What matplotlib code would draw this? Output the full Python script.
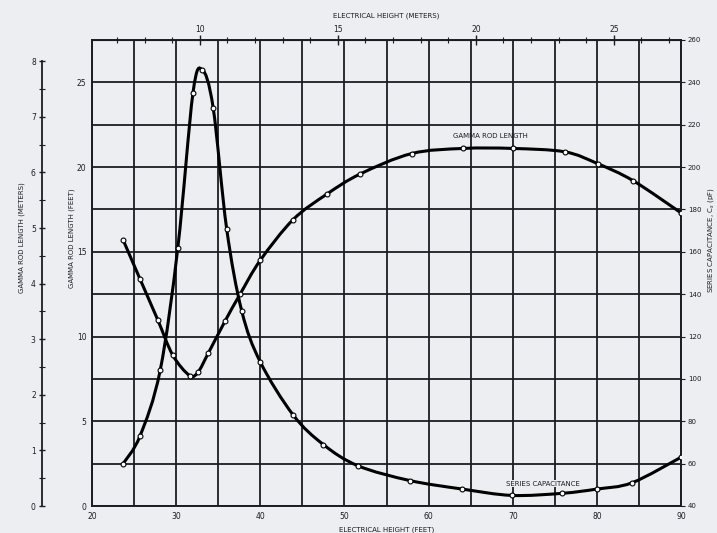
import numpy as np
import matplotlib.pyplot as plt
from matplotlib.path import Path
from matplotlib.patches import PathPatch

FT_PER_M = 3.2808

# electrical height (feet) and gamma rod length (feet)
gamma_h = [23.7, 25.7, 27.8, 29.6, 31.6, 32.6, 33.8, 35.8, 37.6, 40.0, 43.9,
           47.9, 51.9, 58.0, 64.1, 70.0, 76.2, 80.1, 84.3, 90.0]
gamma_len = [15.7, 13.4, 11.0, 8.9, 7.7, 7.9, 9.0, 10.9, 12.5, 14.5, 16.9,
             18.4, 19.6, 20.8, 21.1, 21.1, 20.9, 20.2, 19.2, 17.3]

# electrical height (feet) and series capacitance (pF)
cap_h = [23.7, 25.7, 28.1, 30.2, 32.0, 33.1, 34.4, 36.0, 37.8, 40.0, 43.9,
         47.5, 51.6, 57.8, 64.0, 69.9, 75.9, 80.0, 84.2, 90.0]
cap_pf = [60, 73, 104, 162, 235, 246, 228, 171, 132, 108, 83,
          69, 59, 52, 48, 45, 46, 48, 51, 63]

x_ticks = [20, 30, 40, 50, 60, 70, 80, 90]
m_ticks = [10, 15, 20, 25]
ft_ticks = [0, 5, 10, 15, 20, 25]
meter_ticks = [0, 1, 2, 3, 4, 5, 6, 7, 8]
pf_ticks = list(range(40, 261, 20))

bg = '#eceef1'
ink = '#1c1c24'
fs = 5.5


def smooth_path(xs, ys):
    # catmull-rom through the read points, drawn as cubic bezier
    p = np.column_stack([xs, ys]).astype(float)
    pp = np.vstack([p[0], p, p[-1]])
    verts = [p[0]]
    codes = [Path.MOVETO]
    for i in range(1, len(pp) - 2):
        c1 = pp[i] + (pp[i + 1] - pp[i - 1]) / 6
        c2 = pp[i + 1] - (pp[i + 2] - pp[i]) / 6
        verts += [c1, c2, pp[i + 1]]
        codes += [Path.CURVE4] * 3
    return Path(verts, codes)


fig = plt.figure(figsize=(7.17, 5.33), dpi=100, facecolor=bg)
ax = fig.add_axes([92 / 717, 1 - 506 / 533, 589 / 717, 466 / 533])
ax.set_facecolor(bg)
ax.set_xlim(20, 90)
ax.set_ylim(0, 27.5)
ax.set_xticks(x_ticks)
ax.set_xticks(np.arange(25, 90, 10), minor=True)
ax.set_yticks(ft_ticks)
ax.set_yticks(np.arange(2.5, 27.5, 5), minor=True)
ax.grid(which='both', color=ink, lw=1.3)
ax.tick_params(which='both', length=0, labelsize=fs, colors=ink, pad=4)
for s in ax.spines.values():
    s.set_color(ink)
    s.set_linewidth(1.4)

ax.add_patch(PathPatch(smooth_path(gamma_h, gamma_len), fc='none', ec='black', lw=2.2, zorder=3))
ax.plot(gamma_h, gamma_len, ls='none', marker='o', ms=3.5, mfc='white', mec='black', mew=0.8, zorder=4)

ax2 = ax.twinx()
ax2.set_ylim(40, 260)
ax2.set_yticks(pf_ticks)
ax2.tick_params(length=3, labelsize=5, colors=ink, pad=2)
ax2.add_patch(PathPatch(smooth_path(cap_h, cap_pf), fc='none', ec='black', lw=2.2, zorder=3))
ax2.plot(cap_h, cap_pf, ls='none', marker='o', ms=3.5, mfc='white', mec='black', mew=0.8, zorder=4)
for s in ax2.spines.values():
    s.set_visible(False)

ax.text(67.3, 214.7, 'GAMMA ROD LENGTH', transform=ax2.transData, fontsize=5,
        ha='center', va='center', color=ink, zorder=5)
ax.text(73.6, 50.6, 'SERIES CAPACITANCE', transform=ax2.transData, fontsize=5,
        ha='center', va='center', color=ink, zorder=5,
        bbox=dict(fc=bg, ec='none', pad=0.5))

top = ax.secondary_xaxis('top', functions=(lambda f: f / FT_PER_M, lambda m: m * FT_PER_M))
top.set_xticks(m_ticks)
top.set_xticks(np.arange(7, 28, 1), minor=True)
top.tick_params(which='major', direction='inout', length=7, width=1, labelsize=fs, colors=ink, pad=1)
top.tick_params(which='minor', direction='inout', length=4, width=0.8, colors=ink)
top.set_xlabel('ELECTRICAL HEIGHT (METERS)', fontsize=5, color=ink, labelpad=5)

left = ax.secondary_yaxis(-50 / 589, functions=(lambda f: f / FT_PER_M, lambda m: m * FT_PER_M))
left.set_yticks(meter_ticks)
left.set_yticks(np.arange(0.5, 8, 1), minor=True)
left.tick_params(which='major', direction='inout', length=5, width=1, labelsize=fs, colors=ink, pad=2)
left.tick_params(which='minor', direction='inout', length=4, width=0.8, colors=ink)
left.spines['left'].set_bounds(0, 8)
left.spines['left'].set_color(ink)
left.spines['left'].set_linewidth(1.3)

ax.set_xlabel('ELECTRICAL HEIGHT (FEET)', fontsize=5, color=ink, labelpad=4)
fig.text(22 / 717, 1 - 238 / 533, 'GAMMA ROD LENGTH (METERS)', rotation=90,
         fontsize=5, color=ink, ha='center', va='center')
fig.text(72 / 717, 1 - 238 / 533, 'GAMMA ROD LENGTH (FEET)', rotation=90,
         fontsize=5, color=ink, ha='center', va='center')
fig.text(711 / 717, 1 - 240 / 533, 'SERIES CAPACITANCE, C$_s$ (pF)', rotation=90,
         fontsize=5, color=ink, ha='center', va='center')

fig.savefig('out.png', dpi=100, facecolor=bg)
